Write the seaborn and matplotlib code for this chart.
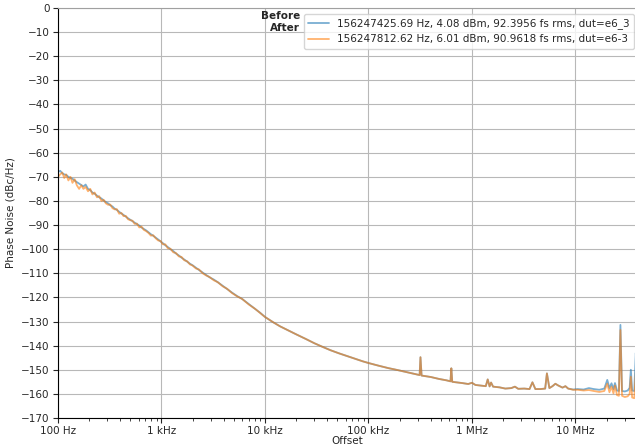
import numpy as np
import pandas as pd
import matplotlib
matplotlib.use("Agg")
import matplotlib.pyplot as plt
from matplotlib.ticker import EngFormatter, LogLocator
import seaborn as sns

# ---- data ----
freq_hz = [
    100, 105, 110, 115, 120, 126, 132, 138, 145, 152, 160, 168, 176, 185, 195,
    205, 215, 226, 238, 250, 263, 276, 290, 305, 320, 336, 353, 370, 390, 410,
    430, 452, 475, 500, 525, 550, 580, 610, 640, 675, 710, 750, 790, 830, 880,
    930, 980, 1030, 1090, 1150, 1220, 1300, 1380, 1470, 1560, 1660, 1770, 1880,
    2000, 2150, 2300, 2500, 2700, 2900, 3200, 3500, 3900, 4300, 4800, 5400,
    6000, 7000, 8000, 9000, 10000,
    12e3, 14e3, 17e3, 20e3, 25e3, 30e3, 36e3, 43e3, 52e3, 62e3, 75e3, 88e3,
    100e3, 125e3, 155e3, 190e3, 230e3, 280e3, 312e3, 318e3, 326e3, 400e3,
    480e3, 570e3, 620e3, 632e3, 645e3, 800e3, 920e3, 1.0e6, 1.08e6, 1.25e6,
    1.36e6, 1.42e6, 1.48e6, 1.53e6, 1.6e6, 1.85e6, 2.1e6, 2.4e6, 2.6e6, 2.8e6,
    3.2e6, 3.6e6, 3.84e6, 4.1e6, 4.6e6, 5.1e6, 5.3e6, 5.6e6, 6.0e6, 6.4e6,
    6.8e6, 7.5e6, 8.0e6, 8.5e6, 9.5e6, 10.5e6, 12e6, 13.5e6, 15e6, 17e6,
    19e6, 20.3e6, 21.3e6, 22.3e6, 23.3e6, 24.1e6, 25.2e6, 26.3e6, 27.2e6,
    28.2e6, 30e6, 32e6, 33.4e6, 34.3e6, 35.3e6, 37e6, 38.3e6, 39.5e6,
]

before_dbc = [
    -68.0, -67.5, -68.5, -69.0, -69.2, -70.0, -70.5, -70.8, -71.5, -72.2,
    -72.8, -73.4, -74.0, -73.2, -75.0, -75.5, -76.5, -77.0, -77.8, -78.5,
    -79.0, -79.8, -80.5, -81.0, -81.8, -82.3, -83.2, -83.7, -84.5, -85.2,
    -85.8, -86.5, -87.2, -87.8, -88.4, -89.0, -89.6, -90.2, -91.0, -91.6,
    -92.2, -93.0, -93.8, -94.4, -95.2, -96.0, -96.8, -97.5, -98.4, -99.1,
    -100.0, -100.8, -101.8, -102.6, -103.5, -104.3, -105.2, -106.0, -106.7,
    -107.7, -108.6, -109.7, -110.7, -111.6, -112.6, -113.7, -115.2, -116.5,
    -118.0, -119.5, -120.6, -122.8, -124.7, -126.4, -128.1,
    -130.3, -132.0, -133.8, -135.3, -137.3, -139.0, -140.5, -141.9, -143.2,
    -144.3, -145.5, -146.5, -147.2, -148.3, -149.3, -150.1, -150.9, -151.7,
    -152.2, -144.8, -152.4, -153.0, -153.8, -154.4, -154.8, -149.4, -155.0,
    -155.5, -155.9, -155.4, -156.3, -156.6, -156.8, -154.0, -156.9, -155.3,
    -157.0, -157.3, -157.8, -157.6, -157.0, -157.9, -157.8, -158.0, -155.2,
    -158.0, -158.0, -157.8, -151.5, -157.6, -156.8, -155.8, -156.5, -157.4,
    -156.8, -157.8, -158.2, -158.0, -158.2, -157.6, -158.0, -158.3, -157.8,
    -154.2, -157.6, -155.6, -158.0, -155.5, -158.6, -158.8, -131.4, -158.8,
    -159.0, -158.6, -157.5, -150.0, -158.6, -158.8, -143.0, -158.0,
]

after_dbc = [
    -70.0, -69.0, -68.2, -70.5, -69.0, -71.5, -70.0, -72.5, -71.0, -73.5,
    -75.0, -73.5, -75.0, -74.2, -76.0, -75.0, -77.3, -76.5, -78.5, -78.0,
    -80.0, -79.5, -81.0, -81.6, -81.5, -83.0, -83.5, -83.4, -85.3, -85.0,
    -86.3, -86.2, -87.6, -88.0, -88.2, -89.5, -89.4, -91.0, -90.6, -92.0,
    -92.5, -93.3, -94.4, -94.2, -95.5, -96.4, -96.6, -98.0, -98.0, -99.6,
    -99.8, -101.3, -101.6, -103.0, -103.2, -104.6, -105.0, -106.3, -106.8,
    -108.0, -108.4, -110.0, -110.9, -111.5, -112.9, -113.7, -115.4, -116.4,
    -118.2, -119.6, -120.6, -123.0, -124.7, -126.5, -128.1,
    -130.3, -132.0, -133.8, -135.3, -137.3, -139.0, -140.5, -141.9, -143.2,
    -144.3, -145.5, -146.5, -147.2, -148.3, -149.3, -150.1, -150.9, -151.7,
    -152.2, -144.8, -152.4, -153.0, -153.8, -154.4, -154.8, -149.4, -155.0,
    -155.5, -155.9, -155.4, -156.3, -156.6, -156.8, -154.0, -156.9, -155.3,
    -157.0, -157.3, -157.8, -157.6, -157.0, -157.9, -157.8, -158.0, -155.2,
    -158.0, -158.0, -157.8, -151.5, -157.6, -156.8, -155.8, -156.5, -157.4,
    -156.8, -157.8, -158.3, -158.3, -158.6, -158.4, -158.8, -159.2, -158.8,
    -155.8, -159.3, -157.0, -159.8, -156.5, -160.5, -160.8, -133.5, -160.8,
    -161.3, -161.0, -160.0, -152.9, -161.5, -161.8, -151.0, -162.0,
]

series_labels = [
    "156247425.69 Hz, 4.08 dBm, 92.3956 fs rms, dut=e6_3",
    "156247812.62 Hz, 6.01 dBm, 90.9618 fs rms, dut=e6-3",
]
y_ticks = list(range(0, -171, -10))

# ---- figure ----
sns.set_style("ticks", {"axes.grid": True, "grid.color": "#b8b8b8",
                        "axes.edgecolor": "black"})
plt.rcParams["font.family"] = ["DejaVu Sans"]
FS = 7.5
plt.rcParams["font.size"] = FS

df = pd.DataFrame({
    "freq": freq_hz * 2,
    "pn": before_dbc + after_dbc,
    "series": [series_labels[0]] * len(freq_hz) + [series_labels[1]] * len(freq_hz),
})

fig = plt.figure(figsize=(6.35, 4.48), dpi=100)
ax = fig.add_axes([58 / 635, 1 - 418 / 448, 1 - 58 / 635 + 0.002, (418 - 8) / 448])

sns.lineplot(data=df, x="freq", y="pn", hue="series", ax=ax,
             palette=["tab:blue", "tab:orange"], estimator=None,
             linewidth=1.3, alpha=0.6)

ax.set_xscale("log")
ax.set_xlim(100, 3.87e7)
ax.set_ylim(-170, 0)
ax.set_yticks(y_ticks)
ax.xaxis.set_major_formatter(EngFormatter(unit="Hz"))
ax.xaxis.set_minor_locator(LogLocator(base=10, subs=np.arange(2, 10), numticks=20))
ax.set_xlabel("Offset", fontsize=FS, labelpad=0)
ax.set_ylabel("Phase Noise (dBc/Hz)", fontsize=FS, labelpad=4)
ax.tick_params(axis="both", which="major", labelsize=FS, length=3.5, width=0.8,
               direction="out", bottom=True, left=True, pad=2.5)
ax.tick_params(axis="x", which="minor", length=2, width=0.6, bottom=True)
ax.grid(True, which="major", color="#b8b8b8", linewidth=0.8)
ax.grid(False, which="minor")
for s in ["left", "bottom", "top", "right"]:
    ax.spines[s].set_color("black")
    ax.spines[s].set_linewidth(0.8)
ax.spines["top"].set_color("#a0a0a0")

leg = ax.legend(loc="upper right", bbox_to_anchor=(1.0, 0.99), fontsize=FS,
                frameon=True, borderaxespad=0.2)
for line in leg.get_lines():
    line.set_alpha(0.6)
    line.set_linewidth(1.3)

fig.text(300 / 635, 1 - 16 / 448, "Before", ha="right", va="center",
         fontweight="bold", fontsize=FS)
fig.text(300 / 635, 1 - 28 / 448, "After", ha="right", va="center",
         fontweight="bold", fontsize=FS)

fig.savefig("out.png", dpi=100)
